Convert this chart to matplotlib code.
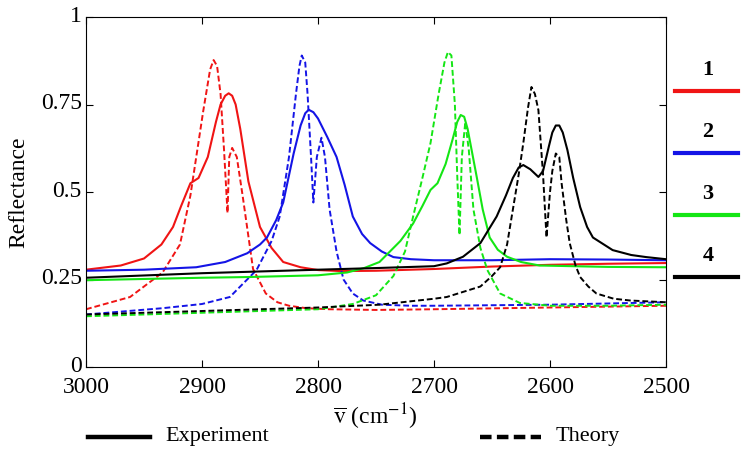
import matplotlib.pyplot as plt
import matplotlib.transforms as mtransforms
from matplotlib.lines import Line2D

plt.rcParams['font.family'] = ['Liberation Serif', 'DejaVu Serif']
plt.rcParams['mathtext.fontset'] = 'stix'

# --- datos (numero de onda en cm-1, reflectancia) ---
x_exp1 = [3000, 2970, 2950, 2935, 2925, 2918, 2910, 2903, 2895, 2888, 2884, 2880, 2877, 2874, 2871,
          2867, 2860, 2850, 2840, 2830, 2815, 2800, 2780, 2750, 2700, 2650, 2600, 2550, 2500]
y_exp1 = [0.278, 0.29, 0.31, 0.35, 0.40, 0.46, 0.525, 0.54, 0.60, 0.70, 0.75, 0.775, 0.782, 0.775, 0.75,
          0.68, 0.53, 0.40, 0.34, 0.30, 0.285, 0.277, 0.274, 0.275, 0.28, 0.287, 0.292, 0.295, 0.297]
x_th1 = [3000, 2962, 2934, 2919, 2910, 2899, 2893, 2890, 2887, 2884, 2881, 2878, 2876.5, 2874, 2870,
         2865, 2856, 2845, 2835, 2825, 2810, 2790, 2750, 2700, 2600, 2500]
y_th1 = [0.165, 0.20, 0.27, 0.35, 0.49, 0.73, 0.85, 0.877, 0.86, 0.78, 0.62, 0.44, 0.60, 0.626, 0.60,
         0.49, 0.28, 0.21, 0.185, 0.175, 0.168, 0.165, 0.163, 0.165, 0.17, 0.175]

x_exp2 = [3000, 2950, 2905, 2880, 2861, 2850, 2844, 2836, 2830, 2821, 2815, 2811, 2808, 2804, 2800,
          2792, 2784, 2777, 2770, 2762, 2755, 2745, 2735, 2720, 2700, 2650, 2600, 2550, 2500]
y_exp2 = [0.275, 0.278, 0.285, 0.30, 0.325, 0.35, 0.37, 0.42, 0.47, 0.61, 0.69, 0.725, 0.735, 0.728, 0.71,
          0.657, 0.60, 0.52, 0.43, 0.38, 0.354, 0.33, 0.314, 0.308, 0.305, 0.305, 0.308, 0.307, 0.305]
x_th2 = [3000, 2934, 2900, 2876, 2853, 2840, 2833, 2825, 2819, 2816, 2814, 2811, 2809, 2806, 2804,
         2801, 2797, 2794, 2790, 2784, 2778, 2770, 2761, 2745, 2720, 2700, 2600, 2500]
y_th2 = [0.15, 0.168, 0.18, 0.20, 0.277, 0.36, 0.43, 0.60, 0.78, 0.86, 0.89, 0.87, 0.78, 0.60, 0.47,
         0.60, 0.655, 0.60, 0.45, 0.33, 0.25, 0.21, 0.19, 0.178, 0.175, 0.175, 0.178, 0.185]

x_exp3 = [3000, 2900, 2861, 2800, 2775, 2760, 2747, 2738, 2729, 2718, 2710, 2703, 2697, 2690, 2684,
          2680, 2677, 2674, 2671, 2667, 2663, 2658, 2652, 2645, 2637, 2625, 2609, 2580, 2550, 2500]
y_exp3 = [0.248, 0.255, 0.257, 0.262, 0.27, 0.283, 0.30, 0.33, 0.36, 0.41, 0.46, 0.506, 0.525, 0.58, 0.65,
          0.70, 0.72, 0.715, 0.68, 0.61, 0.54, 0.45, 0.37, 0.335, 0.315, 0.30, 0.29, 0.288, 0.286, 0.285]
x_th3 = [3000, 2900, 2800, 2770, 2750, 2735, 2725, 2718, 2710, 2703, 2696, 2691, 2688, 2685, 2682,
         2680, 2678, 2676, 2673, 2670, 2666, 2660, 2654, 2643, 2626, 2600, 2550, 2500]
y_th3 = [0.145, 0.155, 0.165, 0.18, 0.205, 0.26, 0.33, 0.43, 0.54, 0.64, 0.78, 0.87, 0.90, 0.89, 0.75,
         0.55, 0.377, 0.60, 0.70, 0.62, 0.45, 0.34, 0.277, 0.21, 0.183, 0.175, 0.175, 0.178]

x_exp4 = [3000, 2900, 2800, 2747, 2700, 2689, 2675, 2660, 2646, 2638, 2632, 2627, 2623, 2617, 2610,
          2606, 2601, 2598, 2595, 2592, 2589, 2585, 2580, 2574, 2568, 2563, 2546, 2530, 2517, 2500]
y_exp4 = [0.255, 0.268, 0.278, 0.283, 0.288, 0.296, 0.315, 0.354, 0.43, 0.49, 0.54, 0.57, 0.577, 0.565, 0.543,
          0.56, 0.63, 0.67, 0.69, 0.69, 0.67, 0.62, 0.54, 0.457, 0.40, 0.37, 0.334, 0.32, 0.314, 0.308]
x_th4 = [3000, 2900, 2800, 2747, 2700, 2689, 2660, 2650, 2643, 2637, 2632, 2627, 2623, 2619, 2616,
         2613, 2610, 2606, 2603, 2600, 2598, 2595, 2592, 2590, 2586, 2583, 2578, 2574, 2567, 2560,
         2545, 2531, 2500]
y_th4 = [0.15, 0.16, 0.17, 0.178, 0.195, 0.20, 0.23, 0.26, 0.285, 0.35, 0.45, 0.55, 0.64, 0.74, 0.80,
         0.78, 0.734, 0.55, 0.37, 0.50, 0.56, 0.61, 0.60, 0.525, 0.42, 0.354, 0.29, 0.257, 0.23, 0.21,
         0.195, 0.19, 0.185]

etiquetas = ['1', '2', '3', '4']
colores = ['#f01414', '#1414e6', '#14e614', '#000000']
x_ticks = [3000, 2900, 2800, 2700, 2600, 2500]
y_ticks = [0, 0.25, 0.5, 0.75, 1]
y_ticklabels = ['0', '0.25', '0.5', '0.75', '1']

experimentos = [(x_exp1, y_exp1), (x_exp2, y_exp2), (x_exp3, y_exp3), (x_exp4, y_exp4)]
teorias = [(x_th1, y_th1), (x_th2, y_th2), (x_th3, y_th3), (x_th4, y_th4)]

fig = plt.figure(figsize=(7.46, 4.58), dpi=100)
ax = fig.add_axes([86 / 746, 91 / 458, 580 / 746, 350 / 458])

for (xe, ye), (xt, yt), c in zip(experimentos, teorias, colores):
    ax.plot(xe, ye, color=c, lw=1.5)
    ax.plot(xt, yt, color=c, lw=1.4, dashes=(3, 1.5))

ax.set_xlim(3000, 2500)
ax.set_ylim(0, 1)
ax.set_xticks(x_ticks)
ax.set_yticks(y_ticks)
ax.set_yticklabels(y_ticklabels)
ax.tick_params(direction='in', top=True, right=True, labelsize=17, length=5)
ax.tick_params(axis='x', pad=7)
ax.tick_params(axis='y', pad=3)
# subir un poco las etiquetas del eje y (como en la figura original)
sube = mtransforms.ScaledTranslation(0, 2.5 / 72, fig.dpi_scale_trans)
for lbl in ax.get_yticklabels():
    lbl.set_transform(lbl.get_transform() + sube)
ax.set_ylabel('Reflectance', fontsize=17)
ax.yaxis.set_label_coords(-0.098, 0.5)
fig.text(375 / 746, 1 - 417 / 458, r'$\overline{\mathrm{v}}$ (cm$^{\mathrm{-1}}$)', fontsize=17,
         ha='center', va='center')

# leyenda de la derecha (1-4)
for i, (lab, c) in enumerate(zip(etiquetas, colores)):
    yl = 1 - (91 + 62 * i) / 458
    fig.add_artist(Line2D([675 / 746, 738 / 746], [yl, yl], color=c, lw=3, transform=fig.transFigure))
    fig.text(708 / 746, yl + 21 / 458, lab, fontsize=16, fontweight='bold', ha='center', va='center')

# leyenda inferior
yb = 1 - 437 / 458
fig.add_artist(Line2D([88 / 746, 150 / 746], [yb, yb], color='k', lw=3.2, transform=fig.transFigure))
fig.text(165 / 746, yb, 'Experiment', fontsize=16, va='center')
fig.add_artist(Line2D([480 / 746, 541 / 746], [yb, yb], color='k', lw=3.2, dashes=(2.6, 1.2),
                      transform=fig.transFigure))
fig.text(556 / 746, yb, 'Theory', fontsize=16, va='center')

fig.savefig('out.png', dpi=100)
